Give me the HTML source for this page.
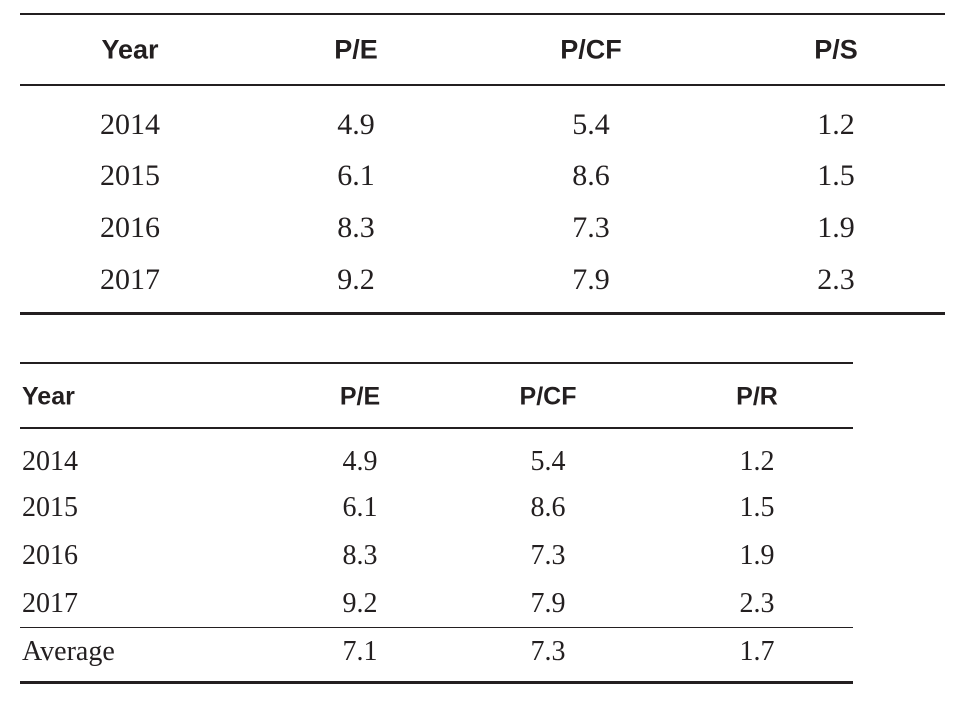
<!DOCTYPE html>
<html><head><meta charset="utf-8"><style>
body{margin:0;width:963px;height:702px;background:#fff;position:relative;overflow:hidden;color:#231f20}
.r{position:absolute;background:#231f20}
.t{position:absolute;transform:translate(-50%,-50%);white-space:nowrap}
.h{font-family:"Liberation Sans",sans-serif;font-weight:bold;font-size:27px}
.h2{font-family:"Liberation Sans",sans-serif;font-weight:bold;font-size:25px}
.s{font-family:"Liberation Serif",serif;font-size:30px}
.s2{font-family:"Liberation Serif",serif;font-size:28px}
.l{transform:translate(0,-50%)}
</style></head><body>
<div>
<div class="r" style="left:20px;top:13px;width:925px;height:2px"></div>
<div class="r" style="left:20px;top:84px;width:925px;height:2px"></div>
<div class="r" style="left:20px;top:312px;width:925px;height:3px"></div>
<div class="t h" style="left:130px;top:50px">Year</div>
<div class="t h" style="left:356px;top:50px">P/E</div>
<div class="t h" style="left:591px;top:50px">P/CF</div>
<div class="t h" style="left:836px;top:50px">P/S</div>
</div>
<div>
<div class="r" style="left:20px;top:362px;width:833px;height:2px"></div>
<div class="r" style="left:20px;top:427px;width:833px;height:2px"></div>
<div class="r" style="left:20px;top:627px;width:833px;height:1px"></div>
<div class="r" style="left:20px;top:681px;width:833px;height:3px"></div>
<div class="t h2 l" style="left:22px;top:397px">Year</div>
<div class="t h2" style="left:360px;top:397px">P/E</div>
<div class="t h2" style="left:548px;top:397px">P/CF</div>
<div class="t h2" style="left:757px;top:397px">P/R</div>
</div>
<script>
const years=["2014","2015","2016","2017"];
const pe=["4.9","6.1","8.3","9.2"];
const pcf=["5.4","8.6","7.3","7.9"];
const ps=["1.2","1.5","1.9","2.3"];
const avg=["Average","7.1","7.3","1.7"];
function cell(txt,x,y,cls,name,left){
  const d=document.createElement('div');
  d.className='t '+cls+(left?' l':'');
  d.style.left=x+'px';d.style.top=y+'px';d.textContent=txt;
  
  
  document.body.appendChild(d);
}
const y1=[125,176,228,280], y2=[462,508,556,604];
years.forEach((yr,i)=>{
  cell(yr,130,y1[i],'s','t1-year-'+yr);
  cell(pe[i],356,y1[i],'s','t1-pe-'+yr);
  cell(pcf[i],591,y1[i],'s','t1-pcf-'+yr);
  cell(ps[i],836,y1[i],'s','t1-ps-'+yr);
  cell(yr,22,y2[i],'s2','t2-year-'+yr,true);
  cell(pe[i],360,y2[i],'s2','t2-pe-'+yr);
  cell(pcf[i],548,y2[i],'s2','t2-pcf-'+yr);
  cell(ps[i],757,y2[i],'s2','t2-pr-'+yr);
});
cell(avg[0],22,652,'s2','t2-average-label',true);
cell(avg[1],360,652,'s2','t2-average-pe');
cell(avg[2],548,652,'s2','t2-average-pcf');
cell(avg[3],757,652,'s2','t2-average-pr');
</script>
</body></html>
